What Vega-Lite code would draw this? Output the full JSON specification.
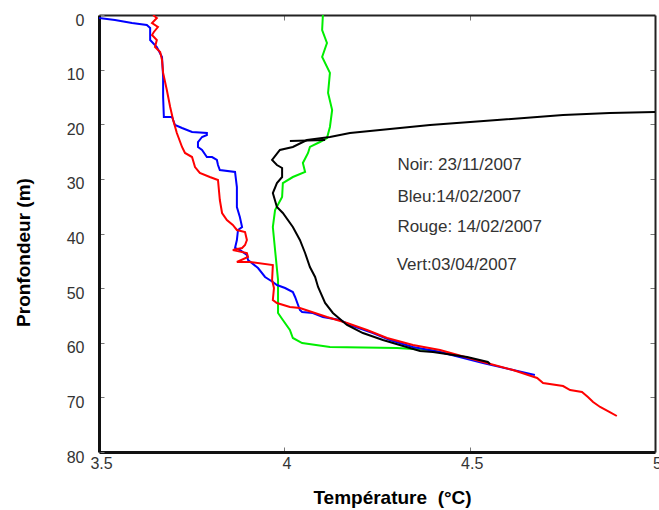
{
  "$schema": "https://vega.github.io/schema/vega-lite/v6.json",
  "width": 556,
  "height": 437,
  "autosize": "none",
  "padding": {"left": 99, "top": 15, "right": 4, "bottom": 58},
  "background": "white",
  "config": {"view": {"stroke": null}, "font": "Liberation Sans", "axis": {"grid": false}},
  "datasets": {
    "profils": [
      {"serie":"Vert","i":1,"temp":4.104,"depth":0},
      {"serie":"Vert","i":2,"temp":4.102,"depth":2.75},
      {"serie":"Vert","i":3,"temp":4.115,"depth":5.13},
      {"serie":"Vert","i":4,"temp":4.102,"depth":7.69},
      {"serie":"Vert","i":5,"temp":4.123,"depth":10.6},
      {"serie":"Vert","i":6,"temp":4.118,"depth":14.28},
      {"serie":"Vert","i":7,"temp":4.129,"depth":17.39},
      {"serie":"Vert","i":8,"temp":4.123,"depth":20.5},
      {"serie":"Vert","i":9,"temp":4.115,"depth":22.52},
      {"serie":"Vert","i":10,"temp":4.096,"depth":23.25},
      {"serie":"Vert","i":11,"temp":4.069,"depth":24.16},
      {"serie":"Vert","i":12,"temp":4.064,"depth":25.26},
      {"serie":"Vert","i":13,"temp":4.05,"depth":27.09},
      {"serie":"Vert","i":14,"temp":4.056,"depth":28.74},
      {"serie":"Vert","i":15,"temp":4.023,"depth":29.66},
      {"serie":"Vert","i":16,"temp":3.996,"depth":30.76},
      {"serie":"Vert","i":17,"temp":3.994,"depth":33.32},
      {"serie":"Vert","i":18,"temp":3.975,"depth":35.7},
      {"serie":"Vert","i":19,"temp":3.969,"depth":38.81},
      {"serie":"Vert","i":20,"temp":3.975,"depth":43.02},
      {"serie":"Vert","i":21,"temp":3.983,"depth":48.51},
      {"serie":"Vert","i":22,"temp":3.983,"depth":54.55},
      {"serie":"Vert","i":23,"temp":3.996,"depth":55.84},
      {"serie":"Vert","i":24,"temp":4.015,"depth":57.67},
      {"serie":"Vert","i":25,"temp":4.023,"depth":59.13},
      {"serie":"Vert","i":26,"temp":4.048,"depth":60.05},
      {"serie":"Vert","i":27,"temp":4.123,"depth":60.78},
      {"serie":"Vert","i":28,"temp":4.304,"depth":60.96},
      {"serie":"Vert","i":29,"temp":4.393,"depth":61.33},
      {"serie":"Vert","i":30,"temp":4.482,"depth":62.61},

      {"serie":"Bleu","i":1,"temp":3.5,"depth":0.55},
      {"serie":"Bleu","i":2,"temp":3.543,"depth":0.92},
      {"serie":"Bleu","i":3,"temp":3.589,"depth":1.46},
      {"serie":"Bleu","i":4,"temp":3.629,"depth":1.83},
      {"serie":"Bleu","i":5,"temp":3.638,"depth":2.38},
      {"serie":"Bleu","i":6,"temp":3.638,"depth":4.58},
      {"serie":"Bleu","i":7,"temp":3.656,"depth":5.86},
      {"serie":"Bleu","i":8,"temp":3.67,"depth":7.69},
      {"serie":"Bleu","i":9,"temp":3.673,"depth":11.35},
      {"serie":"Bleu","i":10,"temp":3.673,"depth":15.01},
      {"serie":"Bleu","i":11,"temp":3.675,"depth":18.67},
      {"serie":"Bleu","i":12,"temp":3.697,"depth":18.67},
      {"serie":"Bleu","i":13,"temp":3.705,"depth":20.14},
      {"serie":"Bleu","i":14,"temp":3.724,"depth":20.69},
      {"serie":"Bleu","i":15,"temp":3.751,"depth":21.42},
      {"serie":"Bleu","i":16,"temp":3.791,"depth":21.6},
      {"serie":"Bleu","i":17,"temp":3.791,"depth":21.97},
      {"serie":"Bleu","i":18,"temp":3.778,"depth":22.33},
      {"serie":"Bleu","i":19,"temp":3.767,"depth":23.25},
      {"serie":"Bleu","i":20,"temp":3.767,"depth":24.16},
      {"serie":"Bleu","i":21,"temp":3.778,"depth":24.71},
      {"serie":"Bleu","i":22,"temp":3.791,"depth":26.0},
      {"serie":"Bleu","i":23,"temp":3.805,"depth":26.0},
      {"serie":"Bleu","i":24,"temp":3.818,"depth":26.54},
      {"serie":"Bleu","i":25,"temp":3.821,"depth":27.46},
      {"serie":"Bleu","i":26,"temp":3.826,"depth":28.38},
      {"serie":"Bleu","i":27,"temp":3.867,"depth":28.74},
      {"serie":"Bleu","i":28,"temp":3.872,"depth":31.49},
      {"serie":"Bleu","i":29,"temp":3.872,"depth":35.15},
      {"serie":"Bleu","i":30,"temp":3.88,"depth":36.98},
      {"serie":"Bleu","i":31,"temp":3.886,"depth":38.81},
      {"serie":"Bleu","i":32,"temp":3.875,"depth":39.36},
      {"serie":"Bleu","i":33,"temp":3.872,"depth":41.19},
      {"serie":"Bleu","i":34,"temp":3.867,"depth":42.65},
      {"serie":"Bleu","i":35,"temp":3.88,"depth":43.02},
      {"serie":"Bleu","i":36,"temp":3.899,"depth":43.94},
      {"serie":"Bleu","i":37,"temp":3.902,"depth":44.85},
      {"serie":"Bleu","i":38,"temp":3.929,"depth":46.32},
      {"serie":"Bleu","i":39,"temp":3.948,"depth":47.96},
      {"serie":"Bleu","i":40,"temp":3.969,"depth":48.88},
      {"serie":"Bleu","i":41,"temp":3.98,"depth":49.43},
      {"serie":"Bleu","i":42,"temp":4.002,"depth":49.98},
      {"serie":"Bleu","i":43,"temp":4.023,"depth":50.71},
      {"serie":"Bleu","i":44,"temp":4.029,"depth":51.62},
      {"serie":"Bleu","i":45,"temp":4.042,"depth":54.0},
      {"serie":"Bleu","i":46,"temp":4.048,"depth":54.37},
      {"serie":"Bleu","i":47,"temp":4.077,"depth":54.55},
      {"serie":"Bleu","i":48,"temp":4.104,"depth":55.29},
      {"serie":"Bleu","i":49,"temp":4.15,"depth":55.84},
      {"serie":"Bleu","i":50,"temp":4.177,"depth":56.75},
      {"serie":"Bleu","i":51,"temp":4.239,"depth":58.22},
      {"serie":"Bleu","i":52,"temp":4.285,"depth":59.5},
      {"serie":"Bleu","i":53,"temp":4.347,"depth":60.78},
      {"serie":"Bleu","i":54,"temp":4.42,"depth":61.69},
      {"serie":"Bleu","i":55,"temp":4.536,"depth":63.71},
      {"serie":"Bleu","i":56,"temp":4.617,"depth":64.99},
      {"serie":"Bleu","i":57,"temp":4.676,"depth":65.9},

      {"serie":"Rouge","i":1,"temp":3.646,"depth":0},
      {"serie":"Rouge","i":2,"temp":3.656,"depth":0.55},
      {"serie":"Rouge","i":3,"temp":3.643,"depth":1.46},
      {"serie":"Rouge","i":4,"temp":3.659,"depth":2.2},
      {"serie":"Rouge","i":5,"temp":3.648,"depth":3.11},
      {"serie":"Rouge","i":6,"temp":3.643,"depth":3.66},
      {"serie":"Rouge","i":7,"temp":3.656,"depth":4.58},
      {"serie":"Rouge","i":8,"temp":3.651,"depth":5.86},
      {"serie":"Rouge","i":9,"temp":3.665,"depth":6.77},
      {"serie":"Rouge","i":10,"temp":3.67,"depth":8.24},
      {"serie":"Rouge","i":11,"temp":3.673,"depth":10.6},
      {"serie":"Rouge","i":12,"temp":3.683,"depth":13.73},
      {"serie":"Rouge","i":13,"temp":3.692,"depth":16.84},
      {"serie":"Rouge","i":14,"temp":3.7,"depth":19.22},
      {"serie":"Rouge","i":15,"temp":3.71,"depth":21.6},
      {"serie":"Rouge","i":16,"temp":3.724,"depth":24.16},
      {"serie":"Rouge","i":17,"temp":3.732,"depth":25.26},
      {"serie":"Rouge","i":18,"temp":3.751,"depth":26.0},
      {"serie":"Rouge","i":19,"temp":3.759,"depth":27.83},
      {"serie":"Rouge","i":20,"temp":3.772,"depth":28.92},
      {"serie":"Rouge","i":21,"temp":3.799,"depth":29.66},
      {"serie":"Rouge","i":22,"temp":3.821,"depth":30.2},
      {"serie":"Rouge","i":23,"temp":3.826,"depth":33.87},
      {"serie":"Rouge","i":24,"temp":3.832,"depth":36.25},
      {"serie":"Rouge","i":25,"temp":3.845,"depth":37.53},
      {"serie":"Rouge","i":26,"temp":3.861,"depth":38.44},
      {"serie":"Rouge","i":27,"temp":3.872,"depth":39.36},
      {"serie":"Rouge","i":28,"temp":3.894,"depth":39.73},
      {"serie":"Rouge","i":29,"temp":3.899,"depth":41.19},
      {"serie":"Rouge","i":30,"temp":3.894,"depth":42.11},
      {"serie":"Rouge","i":31,"temp":3.886,"depth":42.65},
      {"serie":"Rouge","i":32,"temp":3.861,"depth":43.02},
      {"serie":"Rouge","i":33,"temp":3.899,"depth":43.57},
      {"serie":"Rouge","i":34,"temp":3.902,"depth":44.3},
      {"serie":"Rouge","i":35,"temp":3.872,"depth":45.22},
      {"serie":"Rouge","i":36,"temp":3.907,"depth":45.22},
      {"serie":"Rouge","i":37,"temp":3.969,"depth":45.77},
      {"serie":"Rouge","i":38,"temp":3.967,"depth":48.51},
      {"serie":"Rouge","i":39,"temp":3.972,"depth":50.0},
      {"serie":"Rouge","i":40,"temp":3.969,"depth":52.17},
      {"serie":"Rouge","i":41,"temp":3.98,"depth":52.72},
      {"serie":"Rouge","i":42,"temp":4.015,"depth":53.45},
      {"serie":"Rouge","i":43,"temp":4.042,"depth":53.64},
      {"serie":"Rouge","i":44,"temp":4.115,"depth":55.29},
      {"serie":"Rouge","i":45,"temp":4.169,"depth":56.38},
      {"serie":"Rouge","i":46,"temp":4.223,"depth":57.67},
      {"serie":"Rouge","i":47,"temp":4.277,"depth":59.13},
      {"serie":"Rouge","i":48,"temp":4.347,"depth":60.41},
      {"serie":"Rouge","i":49,"temp":4.42,"depth":61.33},
      {"serie":"Rouge","i":50,"temp":4.536,"depth":63.52},
      {"serie":"Rouge","i":51,"temp":4.617,"depth":64.99},
      {"serie":"Rouge","i":52,"temp":4.682,"depth":66.45},
      {"serie":"Rouge","i":53,"temp":4.698,"depth":67.37},
      {"serie":"Rouge","i":54,"temp":4.752,"depth":67.92},
      {"serie":"Rouge","i":55,"temp":4.771,"depth":68.65},
      {"serie":"Rouge","i":56,"temp":4.803,"depth":69.02},
      {"serie":"Rouge","i":57,"temp":4.819,"depth":69.93},
      {"serie":"Rouge","i":58,"temp":4.833,"depth":70.85},
      {"serie":"Rouge","i":59,"temp":4.852,"depth":71.76},
      {"serie":"Rouge","i":60,"temp":4.878,"depth":72.68},
      {"serie":"Rouge","i":61,"temp":4.897,"depth":73.41},

      {"serie":"Noir","i":1,"temp":5.0,"depth":17.76},
      {"serie":"Noir","i":2,"temp":4.878,"depth":17.94},
      {"serie":"Noir","i":3,"temp":4.752,"depth":18.31},
      {"serie":"Noir","i":4,"temp":4.574,"depth":19.22},
      {"serie":"Noir","i":5,"temp":4.393,"depth":20.14},
      {"serie":"Noir","i":6,"temp":4.258,"depth":21.05},
      {"serie":"Noir","i":7,"temp":4.177,"depth":21.6},
      {"serie":"Noir","i":8,"temp":4.123,"depth":22.33},
      {"serie":"Noir","i":9,"temp":4.061,"depth":22.88},
      {"serie":"Noir","i":10,"temp":4.023,"depth":24.16},
      {"serie":"Noir","i":11,"temp":3.988,"depth":24.71},
      {"serie":"Noir","i":12,"temp":3.967,"depth":26.54},
      {"serie":"Noir","i":13,"temp":3.98,"depth":27.46},
      {"serie":"Noir","i":14,"temp":3.994,"depth":28.01},
      {"serie":"Noir","i":15,"temp":3.994,"depth":29.66},
      {"serie":"Noir","i":16,"temp":3.98,"depth":30.76},
      {"serie":"Noir","i":17,"temp":3.969,"depth":32.59},
      {"serie":"Noir","i":18,"temp":3.98,"depth":35.15},
      {"serie":"Noir","i":19,"temp":3.996,"depth":36.25},
      {"serie":"Noir","i":20,"temp":4.023,"depth":38.81},
      {"serie":"Noir","i":21,"temp":4.042,"depth":41.19},
      {"serie":"Noir","i":22,"temp":4.056,"depth":43.57},
      {"serie":"Noir","i":23,"temp":4.069,"depth":46.13},
      {"serie":"Noir","i":24,"temp":4.083,"depth":47.96},
      {"serie":"Noir","i":25,"temp":4.091,"depth":49.79},
      {"serie":"Noir","i":26,"temp":4.11,"depth":52.72},
      {"serie":"Noir","i":27,"temp":4.131,"depth":54.55},
      {"serie":"Noir","i":28,"temp":4.169,"depth":56.75},
      {"serie":"Noir","i":29,"temp":4.212,"depth":58.22},
      {"serie":"Noir","i":30,"temp":4.266,"depth":59.5},
      {"serie":"Noir","i":31,"temp":4.366,"depth":61.51},
      {"serie":"Noir","i":32,"temp":4.401,"depth":61.69},
      {"serie":"Noir","i":33,"temp":4.493,"depth":62.61},
      {"serie":"Noir","i":34,"temp":4.549,"depth":63.52},
      {"serie":"Noir","i":35,"temp":4.555,"depth":63.89},

      {"serie":"Noir2","i":1,"temp":4.015,"depth":23.07},
      {"serie":"Noir2","i":2,"temp":4.11,"depth":22.9}
    ],
    "legende": [
      {"temp":4.305,"depth":27.4,"label":"Noir: 23/11/2007"},
      {"temp":4.305,"depth":33.4,"label":"Bleu:14/02/2007"},
      {"temp":4.305,"depth":38.9,"label":"Rouge: 14/02/2007"},
      {"temp":4.303,"depth":45.7,"label":"Vert:03/04/2007"}
    ]
  },
  "layer": [
    {
      "data": {"name": "profils"},
      "mark": {"type": "line", "strokeWidth": 2, "clip": true},
      "encoding": {
        "x": {
          "field": "temp", "type": "quantitative",
          "scale": {"domain": [3.5, 5], "nice": false, "zero": false},
          "axis": {
            "orient": "bottom", "values": [3.5, 4, 4.5, 5], "format": "~g",
            "tickSize": -5, "tickColor": "#777", "tickWidth": 1,
            "domainColor": "#111", "domainWidth": 3,
            "labelFontSize": 16, "labelColor": "#333", "labelPadding": 8, "labelOffset": 2,
            "labelFlush": false, "labelOverlap": false,
            "title": "Température \u00a0(°C)", "titleFontSize": 19, "titleFontWeight": "bold",
            "titleColor": "#000", "titleX": 293, "titleY": 51, "titleBaseline": "alphabetic", "titleAlign": "center"
          }
        },
        "y": {
          "field": "depth", "type": "quantitative",
          "scale": {"domain": [0, 80], "reverse": true, "nice": false, "zero": false},
          "axis": {
            "orient": "left", "values": [0, 10, 20, 30, 40, 50, 60, 70, 80],
            "tickSize": -5, "tickColor": "#777", "tickWidth": 1,
            "domainColor": "#111", "domainWidth": 3,
            "labelFontSize": 16, "labelColor": "#333", "labelPadding": 20, "labelOffset": 5,
            "labelFlush": false, "labelOverlap": false,
            "title": "Pronfondeur (m)", "titleFontSize": 19, "titleFontWeight": "bold",
            "titleColor": "#000", "titleAngle": -90, "titleX": -70, "titleY": 237,
            "titleBaseline": "alphabetic", "titleAlign": "center"
          }
        },
        "color": {
          "field": "serie", "type": "nominal",
          "scale": {"domain": ["Vert", "Bleu", "Rouge", "Noir", "Noir2"],
                    "range": ["#00ee00", "#0000ff", "#ff0000", "#000000", "#000000"]},
          "legend": null
        },
        "order": {"field": "i", "type": "quantitative"}
      }
    },
    {
      "data": {"name": "legende"},
      "mark": {"type": "text", "align": "left", "baseline": "middle", "fontSize": 17, "color": "#333"},
      "encoding": {
        "x": {
          "field": "temp", "type": "quantitative",
          "scale": {"domain": [3.5, 5], "nice": false, "zero": false},
          "axis": {"orient": "top", "values": [4, 4.5], "labels": false, "title": null,
                   "tickSize": -5, "tickColor": "#777", "domainColor": "#222", "domainWidth": 2}
        },
        "y": {
          "field": "depth", "type": "quantitative",
          "scale": {"domain": [0, 80], "reverse": true, "nice": false, "zero": false},
          "axis": {"orient": "right", "values": [10, 20, 30, 40, 50, 60, 70], "labels": false, "title": null,
                   "tickSize": -5, "tickColor": "#777", "domainColor": "#222", "domainWidth": 2}
        },
        "text": {"field": "label", "type": "nominal"}
      }
    }
  ],
  "resolve": {"axis": {"x": "independent", "y": "independent"}}
}
